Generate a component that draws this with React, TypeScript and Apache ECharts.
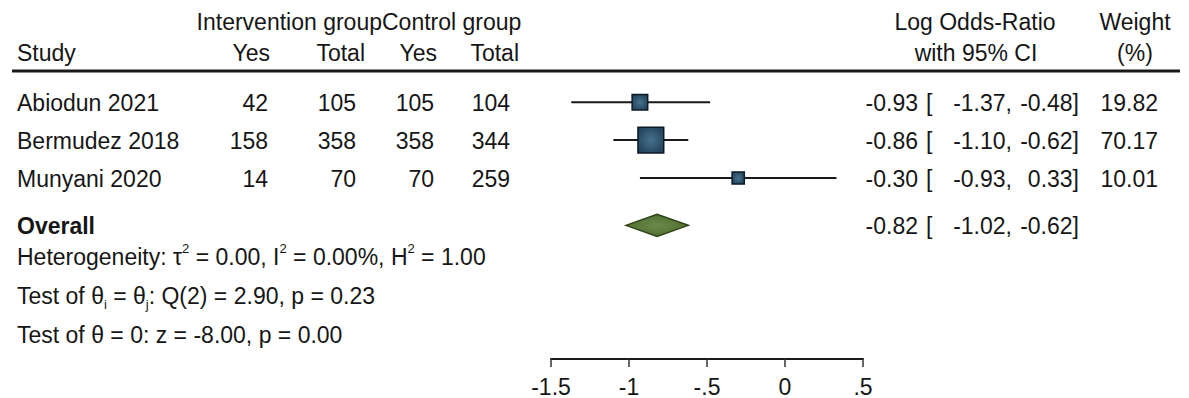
import React, { useEffect, useRef } from 'react';
import * as echarts from 'echarts';

// ---------- data ----------
const studies = ['Abiodun 2021', 'Bermudez 2018', 'Munyani 2020'];
const intYes = [42, 158, 14];
const intTotal = [105, 358, 70];
const ctrlYes = [105, 358, 70];
const ctrlTotal = [104, 344, 259];
const logOR = [-0.93, -0.86, -0.3];
const ciLow = [-1.37, -1.1, -0.93];
const ciHigh = [-0.48, -0.62, 0.33];
const weights = [19.82, 70.17, 10.01];
const overallLabel = 'Overall';
const overallEst = -0.82;
const overallLow = -1.02;
const overallHigh = -0.62;
const xTicks = [-1.5, -1, -0.5, 0, 0.5];
const xTickLabels = ['-1.5', '-1', '-.5', '0', '.5'];
const statLines = [
  'Heterogeneity: τ{sup|2} = 0.00, I{sup|2} = 0.00%, H{sup|2} = 1.00',
  'Test of θ{sub|i} = θ{sub|j}: Q(2) = 2.90, p = 0.23',
  'Test of θ = 0: z = -8.00, p = 0.00',
];

// ---------- layout ----------
const W = 1189;
const H = 398;
const FONT = '"Liberation Sans", Arial, Helvetica, sans-serif';
const FS = 23;
const TXT = '#161616';
const HEAD1_Y = 22;
const HEAD2_Y = 53;
const RULE_Y = 71;
const ROW0 = 102.5;
const STEP = 38;
const OVERALL_Y = 226;
const STAT_Y = [257, 296, 335];
const AXIS_Y = 360;
const PLOT_L = 551;
const PLOT_R = 863;

const f2 = (v: number) => v.toFixed(2);

function txt(text: string, x: number, y: number, align: string, extra: any = {}) {
  return {
    type: 'text',
    x,
    y,
    silent: true,
    style: {
      text,
      fill: TXT,
      fontSize: FS,
      fontFamily: FONT,
      align,
      verticalAlign: 'middle',
      ...extra,
    },
  };
}

export default function App() {
  const ref = useRef<HTMLDivElement>(null);
  useEffect(() => {
    if (!ref.current) return;
    const chart = echarts.init(ref.current, undefined, { renderer: 'svg' });

    const g: any[] = [];
    // headers
    g.push(txt('Intervention group', 382, HEAD1_Y, 'right'));
    g.push(txt('Control group', 382, HEAD1_Y, 'left'));
    g.push(txt('Study', 17, HEAD2_Y, 'left'));
    g.push(txt('Yes', 270, HEAD2_Y, 'right'));
    g.push(txt('Total', 365, HEAD2_Y, 'right'));
    g.push(txt('Yes', 437, HEAD2_Y, 'right'));
    g.push(txt('Total', 519, HEAD2_Y, 'right'));
    g.push(txt('Log Odds-Ratio', 975, HEAD1_Y, 'center'));
    g.push(txt('with 95% CI', 976, HEAD2_Y, 'center'));
    g.push(txt('Weight', 1135, HEAD1_Y, 'center'));
    g.push(txt('(%)', 1135, HEAD2_Y, 'center'));
    g.push({
      type: 'line',
      silent: true,
      shape: { x1: 12, y1: RULE_Y, x2: 1180, y2: RULE_Y },
      style: { stroke: '#1a1a1a', lineWidth: 3 },
    });

    // rows
    studies.forEach((s, i) => {
      const y = ROW0 + i * STEP;
      g.push(txt(s, 17, y, 'left'));
      g.push(txt(String(intYes[i]), 268, y, 'right'));
      g.push(txt(String(intTotal[i]), 356, y, 'right'));
      g.push(txt(String(ctrlYes[i]), 434, y, 'right'));
      g.push(txt(String(ctrlTotal[i]), 510, y, 'right'));
      g.push(txt(f2(logOR[i]), 918, y, 'right'));
      g.push(txt('[', 926, y, 'left'));
      g.push(txt(f2(ciLow[i]) + ',', 1012, y, 'right'));
      g.push(txt(f2(ciHigh[i]) + ']', 1079, y, 'right'));
      g.push(txt(f2(weights[i]), 1158, y, 'right'));
    });

    // overall
    g.push(txt(overallLabel, 17, OVERALL_Y, 'left', { fontWeight: 'bold' }));
    g.push(txt(f2(overallEst), 918, OVERALL_Y, 'right'));
    g.push(txt('[', 926, OVERALL_Y, 'left'));
    g.push(txt(f2(overallLow) + ',', 1012, OVERALL_Y, 'right'));
    g.push(txt(f2(overallHigh) + ']', 1079, OVERALL_Y, 'right'));

    // stats lines
    statLines.forEach((s, i) => {
      g.push(
        txt(s, 17, STAT_Y[i], 'left', {
          lineHeight: 30,
          rich: {
            sup: { fontSize: 13, fontFamily: FONT, fill: TXT, verticalAlign: 'top', lineHeight: 30 },
            sub: { fontSize: 13, fontFamily: FONT, fill: TXT, verticalAlign: 'bottom', lineHeight: 30 },
          },
        })
      );
    });

    const boxFill = new echarts.graphic.RadialGradient(0.5, 0.5, 0.7, [
      { offset: 0, color: '#46718c' },
      { offset: 1, color: '#1c3a52' },
    ]);
    const diamondFill = new echarts.graphic.RadialGradient(0.5, 0.5, 0.6, [
      { offset: 0, color: '#6c8a4a' },
      { offset: 1, color: '#4a6a2c' },
    ]);

    const studyData = studies.map((_, i) => [logOR[i], ciLow[i], ciHigh[i], i, weights[i]]);

    chart.setOption({
      animation: false,
      backgroundColor: '#ffffff',
      grid: { left: PLOT_L, right: W - PLOT_R, top: 0, height: AXIS_Y, containLabel: false },
      xAxis: {
        type: 'value',
        min: -1.5,
        max: 0.5,
        interval: 0.5,
        position: 'bottom',
        axisLine: { show: true, onZero: false, lineStyle: { color: '#1a1a1a', width: 2 } },
        axisTick: { show: true, length: 8, lineStyle: { color: '#333', width: 1.5 } },
        axisLabel: {
          show: true,
          margin: 16,
          fontSize: FS,
          fontFamily: FONT,
          color: TXT,
          formatter: (v: number) => {
            const k = xTicks.findIndex((t) => Math.abs(t - v) < 1e-9);
            return k >= 0 ? xTickLabels[k] : '';
          },
        },
        splitLine: { show: false },
      },
      yAxis: {
        type: 'value',
        min: 0,
        max: AXIS_Y,
        inverse: true,
        show: false,
        splitLine: { show: false },
      },
      graphic: g,
      series: [
        {
          type: 'custom',
          silent: true,
          data: studyData,
          encode: { x: [0, 1, 2] },
          renderItem: (params: any, api: any) => {
            const est = api.value(0);
            const lo = api.value(1);
            const hi = api.value(2);
            const idx = api.value(3);
            const w = api.value(4);
            const y = ROW0 + idx * STEP;
            const p1 = api.coord([lo, y]);
            const p2 = api.coord([hi, y]);
            const pc = api.coord([est, y]);
            const s = 2.6 * Math.sqrt(w) + 4;
            return {
              type: 'group',
              children: [
                {
                  type: 'line',
                  shape: { x1: p1[0], y1: p1[1], x2: p2[0], y2: p2[1] },
                  style: { stroke: '#1a1a1a', lineWidth: 2 },
                },
                {
                  type: 'rect',
                  shape: { x: pc[0] - s / 2, y: pc[1] - s / 2, width: s, height: s },
                  style: { fill: boxFill, stroke: '#0c1b29', lineWidth: 1.5 },
                },
              ],
            };
          },
        },
        {
          type: 'custom',
          silent: true,
          data: [[overallEst, overallLow, overallHigh]],
          encode: { x: [0, 1, 2] },
          renderItem: (params: any, api: any) => {
            const est = api.value(0);
            const lo = api.value(1);
            const hi = api.value(2);
            const pl = api.coord([lo, OVERALL_Y]);
            const pr = api.coord([hi, OVERALL_Y]);
            const pc = api.coord([est, OVERALL_Y]);
            const h = 11;
            return {
              type: 'polygon',
              shape: {
                points: [
                  [pl[0], pl[1]],
                  [pc[0], pc[1] - h],
                  [pr[0], pr[1]],
                  [pc[0], pc[1] + h],
                ],
              },
              style: { fill: diamondFill, stroke: '#2e4418', lineWidth: 1.5 },
            };
          },
        },
      ],
    });

    return () => chart.dispose();
  }, []);

  return (
    <div
      ref={ref}
      style={{ position: 'absolute', left: 0, top: 0, width: W, height: H, background: '#fff' }}
    />
  );
}
